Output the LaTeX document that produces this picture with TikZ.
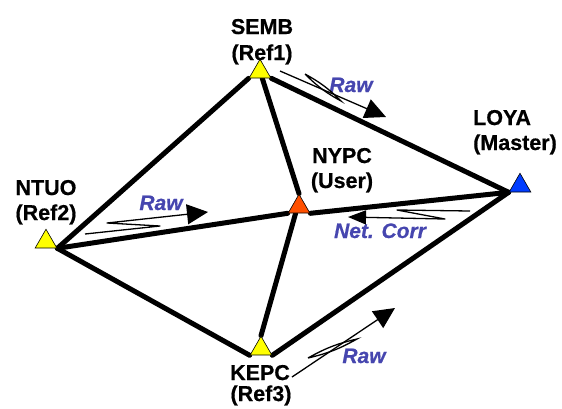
\documentclass[tikz,border=0pt]{standalone}
\usepackage{fontspec}
\setmainfont{Liberation Sans}[BoldFont={Liberation Sans Bold},ItalicFont={Liberation Sans Italic},BoldItalicFont={Liberation Sans Bold Italic},BoldFeatures={FakeBold=0.6},BoldItalicFeatures={FakeBold=0.6}]
\usetikzlibrary{shapes.geometric,arrows.meta,backgrounds,calc}
\definecolor{rawblue}{RGB}{70,70,175}
\definecolor{triyellow}{RGB}{255,255,0}
\definecolor{triorange}{RGB}{255,80,0}
\definecolor{triblue}{RGB}{0,60,255}
\begin{document}
\begin{tikzpicture}[x=1pt,y=-1pt,
  tri/.style={regular polygon,regular polygon sides=3,minimum size=25pt,inner sep=0pt,draw=black,line width=0.6pt},
  link/.style={line width=5pt,line cap=round},
  lbl/.style={font=\bfseries\fontsize{21.5}{24}\selectfont,anchor=base,inner sep=0pt},
  rawlbl/.style={font=\bfseries\itshape\fontsize{21}{24}\selectfont,text=rawblue,anchor=base,inner sep=0pt},
  sigarrow/.style={line width=1.3pt,line join=round,-{Triangle[length=21pt,width=20pt]}},
  netarrow/.style={line width=1.3pt,line join=round,-{Triangle[length=18pt,width=14pt]}},
  lens/.style={line width=1.3pt}
]
\useasboundingbox (0,0) rectangle (562,408);

% stations
\node[tri,fill=triyellow] (semb) at (260,71.75) {};
\node[tri,fill=triyellow] (ntuo) at (46,241.75) {};
\node[tri,fill=triorange] (nypc) at (299,206.75) {};
\node[tri,fill=triblue]   (loya) at (520,185.75) {};
\node[tri,fill=triyellow] (kepc) at (261,348.75) {};

% baselines
\begin{scope}[on background layer]
\draw[link] (ntuo.corner 3) -- (semb.corner 2);
\draw[link] (semb.corner 3) -- (loya.corner 2);
\draw[link] ($(semb.corner 2)!0.6!(semb.corner 3)$) -- (nypc.corner 1);
\draw[link] (ntuo.corner 3) -- (nypc.corner 2);
\draw[link] (nypc.corner 3) -- (loya.corner 2);
\draw[link] ($(nypc.corner 2)!0.35!(nypc.corner 3)$) -- (kepc.corner 1);
\draw[link] (ntuo.corner 3) -- (kepc.corner 2);
\draw[link] (kepc.corner 3) -- (loya.corner 2);
\end{scope}

% station labels
\node[lbl] (sembname) at (262,34) {SEMB};
\node[lbl] (sembref) at (262,60) {(Ref1)};
\node[lbl] (ntuoname) at (46,195) {NTUO};
\node[lbl] (ntuoref) at (46,220) {(Ref2)};
\node[lbl] (nypcname) at (342,163) {NYPC};
\node[lbl] (nypcref) at (342,188) {(User)};
\node[lbl,anchor=base west] (loyaname) at (473,125) {LOYA};
\node[lbl,anchor=base west] (loyaref) at (473,150) {(Master)};
\node[lbl] (kepcname) at (260,380) {KEPC};
\node[lbl] (kepcref) at (261,401) {(Ref3)};

% data flow labels
\node[rawlbl] (raw1) at (351,92) {Raw};
\node[rawlbl] (raw2) at (161,210) {Raw};
\node[rawlbl] (netcorr) at (380,238) {Net. Corr};
\node[rawlbl] (raw3) at (364,363) {Raw};

% SEMB raw
\coordinate (s1a) at (280,71);
\coordinate (s1b) at (386,117);
\draw[sigarrow] (s1a) -- (s1b);
\coordinate (l1a) at (305,74);
\coordinate (l1b) at (341,101);
\draw[lens] (l1a) to[bend left=8] (l1b) to[bend left=8] (l1a);

% NTUO raw
\coordinate (s2a) at (85,234);
\coordinate (s2b) at (160,226);
\coordinate (s2c) at (107,223);
\coordinate (s2d) at (208,212);
\draw[sigarrow] (s2a) -- (s2b) -- (s2c) -- (s2d);

% Net. Corr
\coordinate (s3a) at (470,211);
\coordinate (s3b) at (397,210);
\coordinate (s3c) at (445,219);
\coordinate (s3d) at (348,217);
\draw[netarrow] (s3a) -- (s3b) -- (s3c) -- (s3d);

% KEPC raw
\coordinate (s4a) at (292,377);
\coordinate (s4b) at (395,308);
\draw[sigarrow] (s4a) -- (s4b);
\coordinate (l4a) at (308,358);
\coordinate (l4b) at (357,339);
\draw[lens] (l4a) to[bend left=8] (l4b) to[bend left=8] (l4a);
\end{tikzpicture}
\end{document}
